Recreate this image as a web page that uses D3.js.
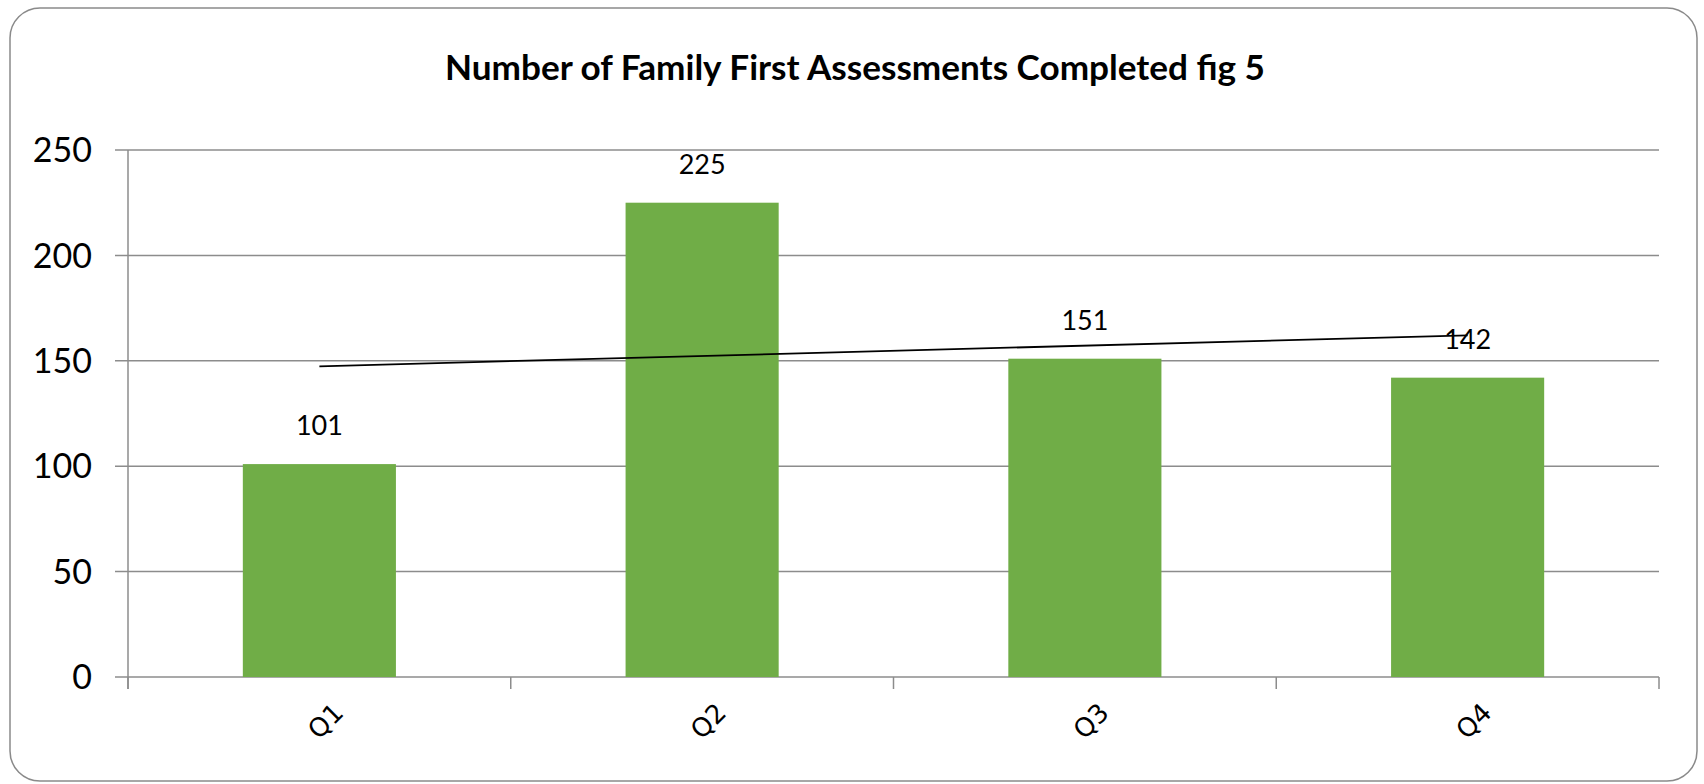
<!DOCTYPE html>
<html>
<head>
<meta charset="utf-8">
<script src="https://d3js.org/d3.v7.min.js"></script>
<style>
  body { margin: 0; background: #fff; }
  svg { display: block; }
</style>
</head>
<body>
<svg id="chart" width="1704" height="784"></svg>
<script>
const TITLE = "Number of Family First Assessments Completed fig 5"
const QUARTERS = ["Q1", "Q2", "Q3", "Q4"]
const COMPLETED = [101, 225, 151, 142]
const Y_TICKS = [0, 50, 100, 150, 200, 250]

const BAR_COLOR = "#70AD47"
const GRID_COLOR = "#8c8c8c"
const FONT = "Lato, 'Open Sans', sans-serif"

const svg = d3.select("#chart")

// outer chart frame with rounded corners
svg.append("rect")
  .attr("x", 10).attr("y", 8)
  .attr("width", 1687).attr("height", 773)
  .attr("rx", 30).attr("ry", 30)
  .attr("fill", "#fff")
  .attr("stroke", "#8a8a8a")
  .attr("stroke-width", 1.5)

svg.append("text")
  .attr("x", 855).attr("y", 80)
  .attr("text-anchor", "middle")
  .attr("font-family", FONT)
  .attr("font-weight", "bold")
  .attr("font-size", 35)
  .attr("textLength", 820)
  .attr("lengthAdjust", "spacingAndGlyphs")
  .attr("fill", "#000")
  .text(TITLE)

const plot = { left: 128, right: 1659, top: 150, bottom: 677 }

const x = d3.scaleBand()
  .domain(QUARTERS)
  .range([plot.left, plot.right])
  .paddingInner(0.6)
  .paddingOuter(0.3)

const xEdges = d3.scaleLinear()
  .domain([0, QUARTERS.length])
  .range([plot.left, plot.right])

const y = d3.scaleLinear()
  .domain([0, 250])
  .range([plot.bottom, plot.top])

// horizontal gridlines (with small tick stubs left of axis)
svg.append("g")
  .selectAll("line")
  .data(Y_TICKS)
  .join("line")
    .attr("x1", plot.left - 13)
    .attr("x2", plot.right)
    .attr("y1", d => y(d))
    .attr("y2", d => y(d))
    .attr("stroke", GRID_COLOR)
    .attr("stroke-width", 1.5)

// y axis line
svg.append("line")
  .attr("x1", plot.left).attr("x2", plot.left)
  .attr("y1", plot.top).attr("y2", plot.bottom + 12)
  .attr("stroke", GRID_COLOR)
  .attr("stroke-width", 1.5)

// category boundary ticks on x axis
svg.append("g")
  .selectAll("line")
  .data(d3.range(QUARTERS.length + 1))
  .join("line")
    .attr("x1", d => xEdges(d))
    .attr("x2", d => xEdges(d))
    .attr("y1", plot.bottom)
    .attr("y2", plot.bottom + 12)
    .attr("stroke", GRID_COLOR)
    .attr("stroke-width", 1.5)

// y tick labels
svg.append("g")
  .selectAll("text")
  .data(Y_TICKS)
  .join("text")
    .attr("x", 92)
    .attr("y", d => y(d))
    .attr("dy", "0.36em")
    .attr("text-anchor", "end")
    .attr("font-family", FONT)
    .attr("font-size", 34)
    .attr("fill", "#000")
    .text(d => d)

// bars
svg.append("g")
  .selectAll("rect")
  .data(QUARTERS)
  .join("rect")
    .attr("x", d => x(d))
    .attr("width", x.bandwidth())
    .attr("y", (d, i) => y(COMPLETED[i]))
    .attr("height", (d, i) => y(0) - y(COMPLETED[i]))
    .attr("fill", BAR_COLOR)

// data labels
svg.append("g")
  .selectAll("text")
  .data(QUARTERS)
  .join("text")
    .attr("x", d => x(d) + x.bandwidth() / 2)
    .attr("y", (d, i) => y(COMPLETED[i]) - 29)
    .attr("text-anchor", "middle")
    .attr("font-family", FONT)
    .attr("font-size", 27)
    .attr("fill", "#000")
    .text((d, i) => COMPLETED[i])

// linear trendline (least squares over the quarter index)
const idx = COMPLETED.map((v, i) => i + 1)
const mx = d3.mean(idx), my = d3.mean(COMPLETED)
const slope = d3.sum(idx, (v, i) => (v - mx) * (COMPLETED[i] - my)) / d3.sum(idx, v => (v - mx) ** 2)
const intercept = my - slope * mx
const trend = [0, QUARTERS.length - 1].map(i => [x(QUARTERS[i]) + x.bandwidth() / 2, y(intercept + slope * (i + 1))])

svg.append("path")
  .attr("d", d3.line()(trend))
  .attr("fill", "none")
  .attr("stroke", "#000")
  .attr("stroke-width", 1.8)

// rotated category labels
svg.append("g")
  .selectAll("text")
  .data(QUARTERS)
  .join("text")
    .attr("transform", d => `translate(${x(d) + x.bandwidth() / 2 + 6},${721}) rotate(-45)`)
    .attr("text-anchor", "middle")
    .attr("dy", "0.35em")
    .attr("font-family", "'DejaVu Sans', sans-serif")
    .attr("font-size", 26)
    .attr("fill", "#000")
    .text(d => d)
</script>
</body>
</html>
